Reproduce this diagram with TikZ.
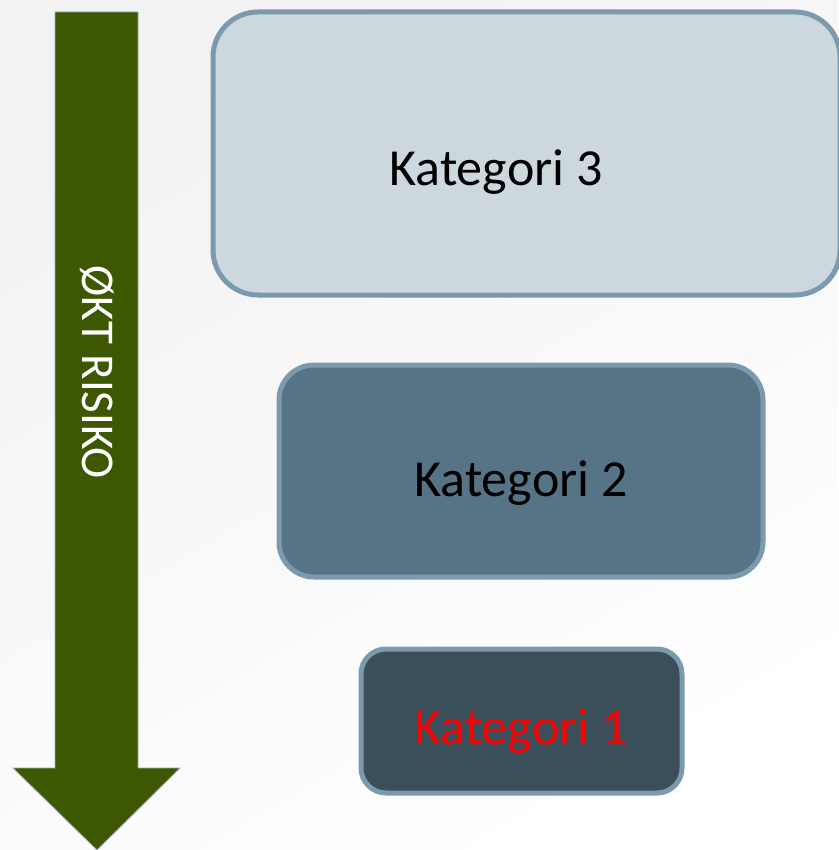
\documentclass[tikz,border=0pt]{standalone}
\usepackage{fontspec}
\setmainfont{Carlito}
\definecolor{bordc}{HTML}{7B9AAD}
\definecolor{fillA}{HTML}{CCD7DE}
\definecolor{fillB}{HTML}{577486}
\definecolor{fillC}{HTML}{3B4F5B}
\definecolor{arrowc}{HTML}{3D5800}
\definecolor{bgc}{HTML}{F2F2F2}
\begin{document}
\begin{tikzpicture}[x=1pt,y=-1pt,
  catbox/.style={draw=bordc, line width=5pt, inner sep=0pt},
  cattext/.style={font=\fontsize{52}{60}\selectfont},
  arrowtext/.style={text=white, font=\fontsize{47}{52}\selectfont, rotate=-90}]
\useasboundingbox (0,0) rectangle (838,850);
\shade[left color=bgc, right color=white, shading angle=30] (0,0) rectangle (838,850);
% arrow
\draw[fill=arrowc, draw=bordc!80, line width=0.8pt]
  (55,12) -- (138,12) -- (138,768) -- (180,768) -- (97,850) -- (13,768) -- (55,768) -- cycle;
\node[arrowtext] (risk) at (97,372) {ØKT RISIKO};
% boxes
\draw[catbox, fill=fillA, rounded corners=45pt] (213,12) rectangle (840,295);
\node[cattext] (k3) at (496,172) {Kategori 3};
\draw[catbox, fill=fillB, rounded corners=35pt] (279,365) rectangle (763,577);
\node[cattext] (k2) at (521,483) {Kategori 2};
\draw[catbox, fill=fillC, rounded corners=25pt] (361,649) rectangle (682,793);
\node[cattext, text=red] (k1) at (521,731) {Kategori 1};
\end{tikzpicture}
\end{document}
